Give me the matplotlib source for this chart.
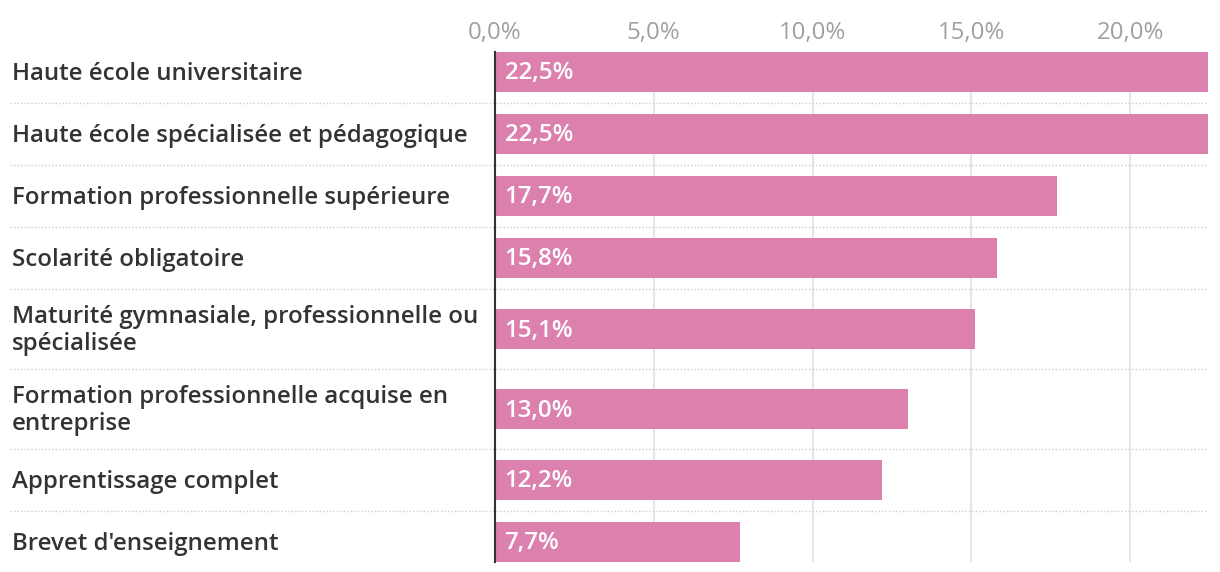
"""Horizontal bar chart: share by highest level of education."""

import matplotlib

matplotlib.use("Agg")
import matplotlib.pyplot as plt
from matplotlib import transforms

plt.rcParams["font.family"] = ["Open Sans", "DejaVu Sans"]

categories = [
    "Haute école universitaire",
    "Haute école spécialisée et pédagogique",
    "Formation professionnelle supérieure",
    "Scolarité obligatoire",
    "Maturité gymnasiale, professionnelle ou\nspécialisée",
    "Formation professionnelle acquise en\nentreprise",
    "Apprentissage complet",
    "Brevet d'enseignement",
]
values = [22.5, 22.5, 17.7, 15.8, 15.1, 13.0, 12.2, 7.7]
xticks = [0, 5, 10, 15, 20]

BAR_COLOR = "#dc80ad"
TEXT_COLOR = "#333333"
TICK_COLOR = "#a0a0a0"

W, H = 1220, 572
fig = plt.figure(figsize=(W / 100, H / 100), dpi=100)

# layout in pixels: row height depends on the number of label lines
ROW_TOP = 41
ROW_H = {1: 62, 2: 80}
BAR_H = 40
TEXT_NUDGE = 1.5  # text sits a touch below the geometric centre

tops, centers = [], []
y = ROW_TOP
for label in categories:
    h = ROW_H[label.count("\n") + 1]
    tops.append(y)
    centers.append(y + h / 2)
    y += h
bottoms = [t + ROW_H[c.count("\n") + 1] for t, c in zip(tops, categories)]

y_min = centers[0] - BAR_H / 2
y_max = centers[-1] + BAR_H / 2
ax_left, ax_right = 495, 1208
ax = fig.add_axes([ax_left / W, 1 - y_max / H, (ax_right - ax_left) / W, (y_max - y_min) / H])
ax.set_ylim(y_max, y_min)
ax.set_xlim(0, 22.45)

ax.barh(centers, values, height=BAR_H, color=BAR_COLOR, zorder=2)

for c, v in zip(centers, values):
    ax.text(0.3, c + TEXT_NUDGE, f"{v:.1f}%".replace(".", ","), color="white",
            fontsize=17.4, fontweight="semibold", va="center", ha="left", zorder=3)

# row separators spanning labels and plot
blend = transforms.blended_transform_factory(fig.transFigure, ax.transData)
for b in bottoms[:-1]:
    ax.plot([10 / W, ax_right / W], [b, b], transform=blend, color="#cccccc",
            linestyle=(0, (1, 1.5)), linewidth=1, clip_on=False, zorder=1)

for label, c in zip(categories, centers):
    ax.text(12 / W, c + TEXT_NUDGE, label, transform=blend, color=TEXT_COLOR,
            fontsize=17.3, fontweight="semibold", va="center", ha="left",
            linespacing=1.12)

ax.xaxis.tick_top()
ax.set_xticks(xticks)
ax.set_xticklabels([f"{t:.1f}%".replace(".", ",") for t in xticks])
ax.tick_params(axis="x", length=0, pad=5, labelsize=17.3, labelcolor=TICK_COLOR)
ax.set_yticks([])
ax.grid(axis="x", color="#e6e6e6", linewidth=1.5, zorder=0)
ax.set_axisbelow(True)

for side in ("top", "right", "bottom"):
    ax.spines[side].set_visible(False)
ax.spines["left"].set_color(TEXT_COLOR)
ax.spines["left"].set_linewidth(1.5)
ax.spines["left"].set_zorder(4)

fig.savefig("out.png", dpi=100)
